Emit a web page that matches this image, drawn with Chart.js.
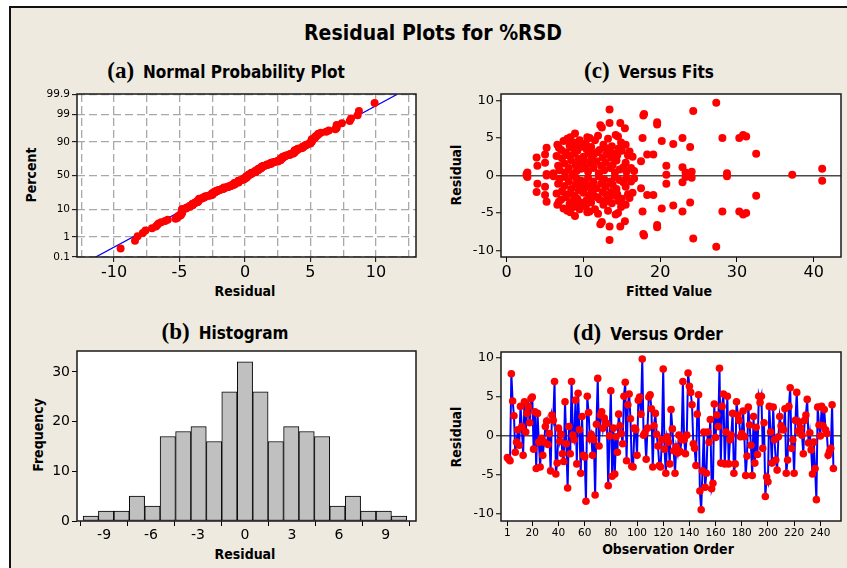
<!DOCTYPE html>
<html><head><meta charset="utf-8">
<script src="https://cdn.jsdelivr.net/npm/chart.js@4.4.0/dist/chart.umd.min.js"></script>
<style>
html,body{margin:0;padding:0;background:#fff;}
#page{position:relative;width:847px;height:568px;overflow:hidden;background:#fff;}
#frame{position:absolute;left:9px;top:6px;width:860px;height:580px;background:#EEEAE0;border-left:2px solid #111;border-top:2px solid #111;}
canvas{position:absolute;}
.t{position:absolute;white-space:nowrap;font-family:"DejaVu Sans Condensed","DejaVu Sans",sans-serif;font-weight:bold;color:#000;transform:translate(-50%,-50%);line-height:1;}
.rot{transform:translate(-50%,-50%) rotate(-90deg);}
.lab{font-family:"Liberation Serif","DejaVu Serif",serif;font-weight:bold;font-size:23px;margin-right:9px;}
.sub{font-size:17px;}
.ax{font-size:14px;}
</style></head>
<body>
<div id="page">
<div id="frame"></div>
<div class="t" style="left:433px;top:33px;font-size:21px;">Residual Plots for %RSD</div>
<div class="t" style="left:226px;top:70px;"><span class="lab">(a)</span><span class="sub">Normal Probability Plot</span></div>
<div class="t" style="left:225px;top:331px;"><span class="lab">(b)</span><span class="sub">Histogram</span></div>
<div class="t" style="left:649px;top:70px;"><span class="lab">(c)</span><span class="sub">Versus Fits</span></div>
<div class="t" style="left:648px;top:332px;"><span class="lab">(d)</span><span class="sub">Versus Order</span></div>
<div class="t ax rot" style="left:31px;top:175px;">Percent</div>
<div class="t ax" style="left:245px;top:291px;">Residual</div>
<div class="t ax rot" style="left:38px;top:435px;">Frequency</div>
<div class="t ax" style="left:245px;top:554px;">Residual</div>
<div class="t ax rot" style="left:456px;top:175px;">Residual</div>
<div class="t ax" style="left:669px;top:291px;">Fitted Value</div>
<div class="t ax rot" style="left:456px;top:437px;">Residual</div>
<div class="t ax" style="left:668px;top:549px;">Observation Order</div>
<canvas id="ca"></canvas>
<canvas id="cb"></canvas>
<canvas id="cc"></canvas>
<canvas id="cd"></canvas>
</div>
<script>
// ---------------- DATA ----------------
// (d) residuals in observation order (1..250)
const orderRes = [
 -2.8,-3.0,-3.2,8.0,4.5,2.6,-2.1,-0.8,0.8,-1.2,
 3.8,1.2,-2.5,4.4,0.5,2.9,3.8,1.7,4.8,5.0,
 -1.7,3.1,-4.2,2.9,-0.8,-4.0,-0.3,-2.5,-0.8,1.2,
 1.9,-1.1,
 0.3,-4.5,2.7,2.0,7.0,-4.9,-3.5,1.0,-0.7,0.2,
 -2.3,-3.3,4.4,-1.0,-6.7,1.2,-2.3,7.0,0.1,-0.5,
 4.6,-3.6,5.5,0.8,-4.8,2.5,-2.5,-2.7,-8.4,5.1,
 3.0,-0.4,
 0.2,-2.5,-0.5,-7.6,1.5,7.4,-1.3,2.7,3.1,1.0,
 2.3,1.7,1.6,-6.4,0.0,5.8,-5.2,1.0,-4.9,-0.1,
 -2.1,2.8,1.3,0.3,-1.0,5.1,6.9,-3.2,4.0,5.4,
 2.2,-3.9,
 -4.0,1.0,0.8,-2.5,4.6,5.0,2.8,9.9,0.1,0.4,
 -3.0,1.0,5.0,5.3,3.5,-4.0,1.3,2.9,0.2,-1.3,
 -3.8,-4.0,-0.5,8.6,-1.7,-4.8,-0.1,-0.8,-3.6,3.4,
 0.9,-1.9,
 -4.8,-1.4,-2.2,0.1,-2.0,-0.5,7.0,-0.5,-2.3,0.1,
 8.1,6.4,5.6,4.0,-1.0,-1.6,-3.8,2.8,5.3,-7.1,
 -9.5,-4.5,0.5,-6.6,-4.8,0.5,-0.8,2.1,-6.8,-6.1,
 4.1,-0.2,
 2.7,1.2,8.7,-3.5,3.8,5.4,-3.6,0.5,5.1,-3.6,
 -0.5,0.1,2.9,-4.8,-3.6,4.4,2.7,2.0,-0.1,0.3,
 3.2,-0.1,-5.1,-2.6,3.7,1.4,-1.2,-5.1,2.5,-3.5,
 1.1,-2.4,
 5.1,4.3,5.1,-1.6,1.7,-7.8,-5.3,-5.9,3.8,0.5,
 -3.5,3.7,-0.5,-3.1,-4.4,-0.1,2.5,1.3,0.8,0.8,
 3.5,-4.8,-3.1,3.8,6.2,-1.6,-0.5,-4.8,2.0,5.6,
 0.6,1.8,
 1.0,0.1,-2.3,2.0,2.7,4.7,-0.9,0.4,-1.8,-4.9,
 -0.8,-4.2,-8.2,3.7,1.4,0.0,3.8,1.3,3.4,0.8,
 0.3,-2.5,-2.0,-1.6,4.0,-4.2
];
const orderTicks = [1,20,40,60,80,100,120,140,160,180,200,220,240];

// (c) fitted values and residuals
const fitsC = [
 2.6,2.6, 2.7,2.7, 3.9,3.9, 4.0,4.0, 5.0,5.0, 5.0,5.0, 5.2,5.2, 5.2,5.2, 6.1,6.1, 6.5,6.5,
 6.6,6.6, 6.7,6.7, 6.8,6.8, 6.9,6.9, 7.2,7.2, 7.4,7.4, 7.5,7.5, 7.6,7.6, 7.7,7.7, 7.9,7.9,
 8.0,8.0, 8.1,8.1, 8.3,8.3, 8.4,8.4, 8.5,8.5, 8.6,8.6, 8.7,8.7, 8.8,8.8, 8.9,8.9, 9.0,9.0,
 9.1,9.1, 9.2,9.2, 9.3,9.3, 9.4,9.4, 9.6,9.6, 9.7,9.7, 9.8,9.8, 10.0,10.0, 10.2,10.2, 10.4,10.4,
 10.5,10.5, 10.6,10.6, 10.7,10.7, 10.8,10.8, 10.9,10.9, 11.0,11.0, 11.1,11.1, 11.3,11.3, 11.4,11.4, 11.5,11.5,
 11.7,11.7, 11.9,11.9, 12.0,12.0, 12.1,12.1, 12.2,12.2, 12.3,12.3, 12.4,12.4, 12.5,12.5, 12.6,12.6, 12.7,12.7,
 12.8,12.8, 12.9,12.9, 13.0,13.0, 13.2,13.2, 13.4,13.4, 13.4,13.4, 13.5,13.5, 13.6,13.6, 13.7,13.7, 13.8,13.8,
 14.0,14.0, 14.1,14.1, 14.2,14.2, 14.3,14.3, 14.4,14.4, 14.5,14.5, 14.7,14.7, 14.8,14.8, 14.9,14.9, 15.0,15.0,
 15.2,15.2, 15.4,15.4, 15.5,15.5, 15.5,15.5, 15.6,15.6, 15.8,15.8, 16.0,16.0, 16.2,16.2, 16.4,16.4, 16.6,16.6,
 17.5,17.5, 17.7,17.7, 17.8,17.8, 17.9,17.9, 18.3,18.3, 19.1,19.1, 19.6,19.6, 19.6,19.6, 20.2,20.2, 20.8,20.8,
 21.7,21.7, 22.9,22.9, 22.9,22.9, 23.3,23.3, 23.9,23.9, 24.1,24.1, 24.3,24.3, 27.3,27.3, 28.1,28.1, 28.7,28.7,
 30.3,30.3, 30.8,30.8, 31.2,31.2, 32.5,32.5, 41.1,41.1, 7.1,7.1, 8.2,8.2, 9.5,9.5, 10.1,10.1, 10.3,10.3,
 11.2,11.2, 11.8,11.8, 13.3,13.3, 14.6,14.6, 20.8, 37.2
];
const resC = [
 0.2,0.0, 0.4,-0.2, 2.4,-2.2, 1.3,-1.1, 2.8,-2.6, 1.7,-1.5, 0.2,0.0, 3.7,-3.5, 0.3,-0.1, 2.6,-2.4,
 4.1,-3.9, 1.3,-1.1, 3.7,-3.5, 0.7,-0.5, 2.3,-2.1, 4.6,-4.4, 1.6,-1.4, 0.4,-0.2, 3.1,-2.9, 4.9,-4.7,
 2.7,-2.5, 1.0,-0.8, 5.1,-4.9, 2.0,-1.8, 3.7,-3.5, 0.2,0.0, 4.4,-4.2, 2.9,-2.7, 5.6,-5.4, 1.4,-1.2,
 0.6,-0.4, 3.3,-3.1, 4.1,-3.9, 2.2,-2.0, 3.8,-3.6, 0.9,-0.7, 1.8,-1.6, 2.5,-2.3, 1.1,-0.9, 3.5,-3.3,
 5.1,-4.9, 0.5,-0.3, 2.9,-2.7, 5.0,-4.8, 1.6,-1.4, 3.8,-3.6, 2.3,-2.1, 1.0,-0.8, 2.9,-2.7, 4.7,-4.5,
 1.9,-1.7, 5.3,-5.1, 0.3,-0.1, 3.4,-3.2, 6.7,-6.5, 1.3,-1.1, 6.4,-6.2, 2.4,-2.2, 4.1,-3.9, 0.7,-0.5,
 3.7,-3.5, 1.7,-1.5, 2.8,-2.6, 4.9,-4.7, 8.8,-8.6, 7.0,-6.8, 1.0,-0.8, 2.4,-2.2, 3.9,-3.7, 1.4,-1.2,
 2.9,-2.7, 0.4,-0.2, 5.4,-5.2, 2.0,-1.8, 2.7,-2.5, 5.2,-5.0, 0.8,-0.6, 7.0,-6.8, 4.4,-4.2, 3.3,-3.1,
 1.1,-0.9, 6.3,-6.1, 4.1,-3.9, 1.7,-1.5, 0.5,-0.3, 2.7,-2.5, 3.2,-3.0, 1.0,-0.8, 2.5,-2.3, 0.6,-0.4,
 1.9,-1.7, 5.0,-4.8, 8.0,-7.8, 8.2,-8.0, 2.8,-2.6, 2.8,-2.6, 7.1,-6.9, 6.8,-6.6, 4.6,-4.4, 1.3,-1.1,
 4.2,-4.0, 5.0,-4.8, 1.1,-0.9, 0.4,-0.2, 3.8,-3.6, 0.5,-0.3, 8.6,-8.4, 9.7,-9.5, 5.0,-4.8, 0.3,-0.1,
 5.0,-4.8, 5.4,-5.2, 5.2,-5.0, 2.9,-2.7, 0.9,-0.7, 3.4,-3.2, 4.0,-3.8, 4.7,-4.5, 2.0,-1.8, 4.3,-4.1,
 1.4,-1.2, 3.1,-2.9, 3.1,-2.9, 3.6,-3.4, 0.1, 0.1
];

// (b) histogram
const binCenters = [-9.85,-8.87,-7.88,-6.9,-5.91,-4.93,-3.94,-2.96,-1.97,-0.99,0,0.99,1.97,2.96,3.94,4.93,5.91,6.9,7.88,8.87,9.85];
const binCounts  = [1,2,2,5,3,17,18,19,16,26,32,26,16,19,18,17,3,5,2,2,1];
const histTicks = [-9,-6,-3,0,3,6,9];
const freqTicks = [0,10,20,30];

// (a) normal probability plot
const pctTicks = [0.1,1,10,50,90,99,99.9];
const pctLabels = ['0.1','1','10','50','90','99','99.9'];
const fitLineX = [-11.4, 11.6];
const fitLinePct = [0.1, 99.9];

const resTicks = [-10,-5,0,5,10];
const fitTicks = [0,10,20,30,40];

// ---------------- HELPERS ----------------
function probit(p){
 const a=[-3.969683028665376e+01,2.209460984245205e+02,-2.759285104469687e+02,1.383577518672690e+02,-3.066479806614716e+01,2.506628277459239e+00];
 const b=[-5.447609879822406e+01,1.615858368580409e+02,-1.556989798598866e+02,6.680131188771972e+01,-1.328068155288572e+01];
 const c=[-7.784894002430293e-03,-3.223964580411365e-01,-2.400758277161838e+00,-2.549732539343734e+00,4.374664141464968e+00,2.938163982698783e+00];
 const d=[7.784695709041462e-03,3.224671290700398e-01,2.445134137142996e+00,3.754408661907416e+00];
 const pl=0.02425, ph=1-pl; let q,r;
 if(p<pl){q=Math.sqrt(-2*Math.log(p));return (((((c[0]*q+c[1])*q+c[2])*q+c[3])*q+c[4])*q+c[5])/((((d[0]*q+d[1])*q+d[2])*q+d[3])*q+1);}
 if(p<=ph){q=p-0.5;r=q*q;return (((((a[0]*r+a[1])*r+a[2])*r+a[3])*r+a[4])*r+a[5])*q/(((((b[0]*r+b[1])*r+b[2])*r+b[3])*r+b[4])*r+1);}
 q=Math.sqrt(-2*Math.log(1-p));return -(((((c[0]*q+c[1])*q+c[2])*q+c[3])*q+c[4])*q+c[5])/((((d[0]*q+d[1])*q+d[2])*q+d[3])*q+1);
}
const FONT = '"DejaVu Sans", sans-serif';
const framePlugin = {
  id:'frame',
  beforeDraw(chart){const {ctx, chartArea:a}=chart; ctx.save(); ctx.fillStyle='#fff'; ctx.fillRect(a.left,a.top,a.right-a.left,a.bottom-a.top); ctx.restore();},
  afterDraw(chart){const {ctx, chartArea:a}=chart; ctx.save(); ctx.strokeStyle='#1a1a1a'; ctx.lineWidth=1.5; ctx.strokeRect(a.left,a.top,a.right-a.left,a.bottom-a.top); ctx.restore();}
};
function fixedTicks(arr){ return s => { s.ticks = arr.map(v => ({value:v})); }; }
function makeChart(id, area, cfg){
  const m = {l:72, t:12, r:14, b:34};
  const w = (area.r-area.l)+m.l+m.r, h = (area.b-area.t)+m.t+m.b;
  const cv = document.getElementById(id);
  cv.width = w; cv.height = h;
  cv.style.left = (area.l-m.l)+'px'; cv.style.top = (area.t-m.t)+'px';
  cv.style.width = w+'px'; cv.style.height = h+'px';
  cfg.options.responsive = false;
  cfg.options.animation = false;
  cfg.options.devicePixelRatio = 1;
  cfg.options.layout = {padding:{left:0, top:m.t, right:m.r, bottom:0}};
  cfg.options.plugins = {legend:{display:false}, tooltip:{enabled:false}};
  cfg.options.scales.x.afterFit = s => { s.height = m.b; };
  cfg.options.scales.y.afterFit = s => { s.width = m.l; };
  cfg.plugins = [framePlugin];
  return new Chart(cv, cfg);
}
function tickOpts(size, pad){ return {color:'#000', font:{family:FONT, size:size}, padding:pad, autoSkip:false, maxRotation:0, minRotation:0}; }
const noGrid = {drawOnChartArea:false, drawTicks:true, tickLength:5, tickColor:'#000', tickWidth:1, color:'rgba(0,0,0,0)'};
const zeroGrid = {drawOnChartArea:true, drawTicks:true, tickLength:5, tickColor:'#000', tickWidth:1,
  color: c => (c.tick && c.tick.value === 0) ? '#4a4a4a' : 'rgba(0,0,0,0)', lineWidth:1.5};

// ---------------- (a) Normal probability plot ----------------
const sorted = orderRes.slice().sort((p,q)=>p-q);
const nObs = sorted.length;
const probPts = sorted.map((v,i)=>({x:v, y:probit((i+1-0.3)/(nObs+0.4))}));
const linePts = fitLineX.map((x,i)=>({x:x, y:probit(fitLinePct[i]/100)}));
makeChart('ca', {l:77, t:94, r:416, b:257}, {
  type:'scatter',
  data:{datasets:[
    {data:probPts, backgroundColor:'#FF0000', borderColor:'#FF0000', pointRadius:4, borderWidth:0, order:1},
    {type:'line', data:linePts, borderColor:'#0000FF', borderWidth:1.3, pointRadius:0, order:2}
  ]},
  options:{scales:{
    x:{type:'linear', min:-12.83, max:13.06,
       border:{display:false, dash:[8,4]},
       grid:{color:'#A8A8A8', lineWidth:1.3, tickLength:5, tickWidth:1,
             tickColor: c => (c.tick && c.tick.value % 5 === 0) ? '#000' : 'rgba(0,0,0,0)'},
       ticks:Object.assign(tickOpts(16,1), {stepSize:2.5, includeBounds:false,
             callback: v => (v % 5 === 0 ? String(v) : '')})},
    y:{type:'linear', min:probit(pctTicks[0]/100), max:probit(pctTicks[6]/100)+0.02,
       afterBuildTicks: s => { s.ticks = pctTicks.map(p => ({value:probit(p/100)})); },
       border:{display:false, dash:[8,4]},
       grid:{color:'#A8A8A8', lineWidth:1.3, tickLength:5, tickColor:'#000', tickWidth:1},
       ticks:Object.assign(tickOpts(10.5,2), {callback:(v,i)=>pctLabels[i]})}
  }}
});

// ---------------- (b) Histogram ----------------
makeChart('cb', {l:77, t:351, r:416, b:521}, {
  type:'bar',
  data:{datasets:[{data:binCenters.map((c,i)=>({x:c, y:binCounts[i]})),
    backgroundColor:'#C0C0C0', borderColor:'#000', borderWidth:1, borderSkipped:false,
    barPercentage:1, categoryPercentage:1}]},
  options:{scales:{
    x:{type:'linear', min:-10.73, max:10.93, offset:false, afterBuildTicks:fixedTicks(histTicks),
       border:{display:false}, grid:noGrid, ticks:tickOpts(14,1)},
    y:{type:'linear', min:0, max:34.2, afterBuildTicks:fixedTicks(freqTicks),
       border:{display:false}, grid:noGrid, ticks:tickOpts(14,2)}
  }}
});

// ---------------- (c) Versus fits ----------------
makeChart('cc', {l:501, t:94, r:841, b:257}, {
  type:'scatter',
  data:{datasets:[{data:fitsC.map((f,i)=>({x:f, y:resC[i]})), backgroundColor:'#FF0000', borderColor:'#FF0000', pointRadius:4, borderWidth:0}]},
  options:{scales:{
    x:{type:'linear', min:-0.74, max:43.55, afterBuildTicks:fixedTicks(fitTicks),
       border:{display:false}, grid:noGrid, ticks:tickOpts(16,1)},
    y:{type:'linear', min:-10.88, max:10.85, afterBuildTicks:fixedTicks(resTicks),
       border:{display:false}, grid:zeroGrid, ticks:tickOpts(13,2)}
  }}
});

// ---------------- (d) Versus order ----------------
makeChart('cd', {l:501, t:352, r:841, b:521}, {
  type:'scatter',
  data:{datasets:[{data:orderRes.map((v,i)=>({x:i+1, y:v})), showLine:true,
    borderColor:'#0000FF', borderWidth:2, backgroundColor:'#FF0000',
    pointBackgroundColor:'#FF0000', pointBorderColor:'#FF0000', pointBorderWidth:0, pointRadius:3.8}]},
  options:{scales:{
    x:{type:'linear', min:-3.9, max:255.8, afterBuildTicks:fixedTicks(orderTicks),
       border:{display:false}, grid:noGrid, ticks:tickOpts(10.5,1)},
    y:{type:'linear', min:-10.95, max:10.8, afterBuildTicks:fixedTicks(resTicks),
       border:{display:false}, grid:zeroGrid, ticks:tickOpts(12.5,2)}
  }}
});
</script>
</body></html>
